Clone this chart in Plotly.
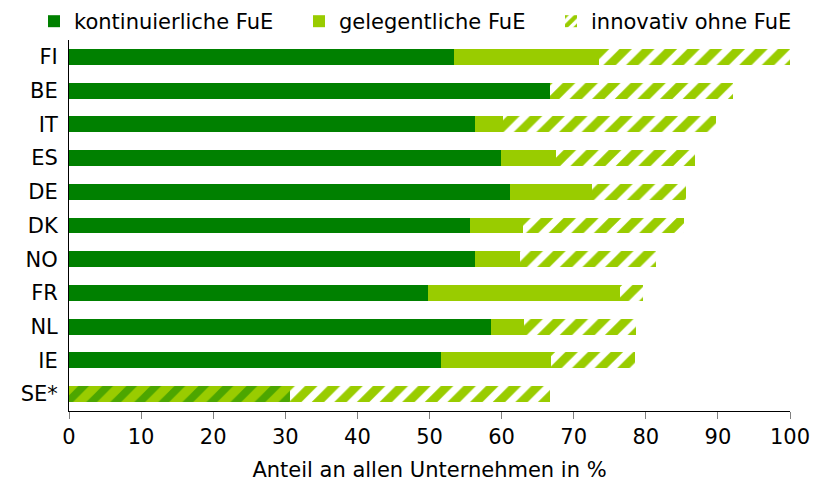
import plotly.graph_objects as go

countries = ["FI", "BE", "IT", "ES", "DE", "DK", "NO", "FR", "NL", "IE", "SE*"]
kontinuierlich = [53.4, 66.7, 56.3, 59.9, 61.1, 55.6, 56.3, 49.8, 58.5, 51.6, None]
gelegentlich = [20.1, 0.0, 3.9, 7.6, 11.4, 7.4, 6.3, 26.6, 4.6, 15.2, None]
fue_gesamt_ohne_aufteilung = [None, None, None, None, None, None, None, None, None, None, 30.6]
innovativ_ohne_fue = [26.5, 25.4, 29.5, 19.3, 13.1, 22.3, 18.8, 3.2, 15.5, 11.7, 36.1]
x_ticks = [0, 10, 20, 30, 40, 50, 60, 70, 80, 90, 100]

DARK = "#008000"
LIGHT = "#99CC00"
FONT = "DejaVu Sans"
FS = 21

fig = go.Figure()
fig.add_trace(go.Bar(y=countries, x=kontinuierlich, orientation="h",
                     name="kontinuierliche FuE", legend="legend",
                     marker=dict(color=DARK, line=dict(width=0))))
fig.add_trace(go.Bar(y=countries, x=gelegentlich, orientation="h",
                     name="gelegentliche FuE", legend="legend2",
                     marker=dict(color=LIGHT, line=dict(width=0))))
fig.add_trace(go.Bar(y=countries, x=fue_gesamt_ohne_aufteilung, orientation="h",
                     name="FuE (ohne Aufteilung)", showlegend=False,
                     marker=dict(color=LIGHT, line=dict(width=0),
                                 pattern=dict(shape="/", fgcolor=DARK, bgcolor=LIGHT,
                                              size=17, solidity=0.45))))
fig.add_trace(go.Bar(y=countries, x=innovativ_ohne_fue, orientation="h",
                     name="innovativ ohne FuE", legend="legend3",
                     marker=dict(color="white", line=dict(width=0),
                                 pattern=dict(shape="/", fgcolor=LIGHT, bgcolor="white",
                                              size=16, solidity=0.55, fillmode="replace"))))

def leg(xpx):
    return dict(orientation="h", x=xpx / 823, xanchor="left", xref="container",
                y=1.105, yanchor="top", yref="paper",
                font=dict(family=FONT, size=FS), itemwidth=30,
                bgcolor="rgba(0,0,0,0)")

fig.update_layout(
    barmode="stack",
    bargap=0.53,
    width=823, height=484,
    margin=dict(l=61, r=41, t=32, b=81, autoexpand=False),
    paper_bgcolor="white", plot_bgcolor="white",
    font=dict(family=FONT, size=FS, color="black"),
    legend=leg(26),
    legend2=leg(291),
    legend3=leg(543),
    xaxis=dict(range=[0, 100], tickvals=x_ticks, ticks="outside", ticklen=7,
               tickcolor="#808080", showline=True, linecolor="black", linewidth=1,
               showgrid=False, zeroline=False,
               title=dict(text="Anteil an allen Unternehmen in %", standoff=14,
                          font=dict(family=FONT, size=FS)),
               tickfont=dict(family=FONT, size=FS)),
    yaxis=dict(autorange="reversed", showline=True, linecolor="black", linewidth=1,
               ticks="", showgrid=False, zeroline=False, ticklabelstandoff=6,
               tickfont=dict(family=FONT, size=FS)),
)

fig.write_html("out.html")
